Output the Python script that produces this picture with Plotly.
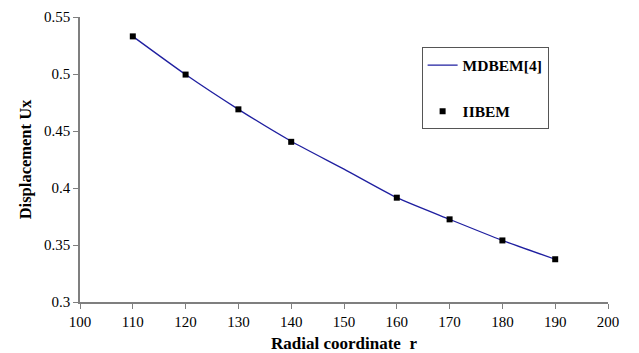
import plotly.graph_objects as go

# Data
r_line = [110, 120, 130, 140, 150, 160, 170, 180, 190]
ux_line = [0.533, 0.4995, 0.469, 0.441, 0.4165, 0.3915, 0.3725, 0.354, 0.3375]
r_pts = [110, 120, 130, 140, 160, 170, 180, 190]
ux_pts = [0.533, 0.4995, 0.469, 0.4405, 0.3915, 0.3725, 0.354, 0.3375]

x_ticks = [100, 110, 120, 130, 140, 150, 160, 170, 180, 190, 200]
y_ticks = [0.3, 0.35, 0.4, 0.45, 0.5, 0.55]
y_labels = ["0.3", "0.35", "0.4", "0.45", "0.5", "0.55"]

serif = "Liberation Serif"

fig = go.Figure()
fig.add_trace(go.Scatter(
    x=r_line, y=ux_line, mode="lines", name="MDBEM[4]",
    line=dict(color="#1f1fa0", width=1.3, shape="spline", smoothing=0.6),
    legendgroup="a",
))
fig.add_trace(go.Scatter(
    x=r_pts, y=ux_pts, mode="markers", name="IIBEM",
    marker=dict(symbol="square", color="black", size=6),
    legendgroup="b",
))

fig.update_layout(
    width=639, height=353,
    margin=dict(l=80, r=31, t=17, b=51),
    paper_bgcolor="white", plot_bgcolor="white",
    font=dict(family=serif, color="black", size=15),
    showlegend=True,
    legend=dict(
        x=0.647, y=0.893, xanchor="left", yanchor="top",
        bordercolor="#555555", borderwidth=1, bgcolor="white",
        font=dict(family=serif, size=15.5, color="black", weight="bold"),
        traceorder="grouped", tracegroupgap=23,
        itemwidth=30,
    ),
    xaxis=dict(
        range=[100, 200], tickvals=x_ticks, ticktext=[str(v) for v in x_ticks],
        showgrid=False, zeroline=False, showline=True, linecolor="#7f7f7f", linewidth=1.5,
        ticks="outside", ticklen=5, tickcolor="#7f7f7f", automargin=False,
        tickfont=dict(family=serif, size=15, color="black"),
        title=dict(text="<b>Radial coordinate  r</b>", font=dict(family=serif, size=17), standoff=10),
    ),
    yaxis=dict(
        range=[0.3, 0.55], tickvals=y_ticks, ticktext=y_labels,
        showgrid=False, zeroline=False, showline=True, linecolor="#7f7f7f", linewidth=1.5,
        ticks="outside", ticklen=5, tickcolor="#7f7f7f", automargin=False,
        tickfont=dict(family=serif, size=15, color="black"),
        title=dict(text="<b>Displacement Ux</b>", font=dict(family=serif, size=16.5), standoff=8),
    ),
)

fig.write_html("out.html")
